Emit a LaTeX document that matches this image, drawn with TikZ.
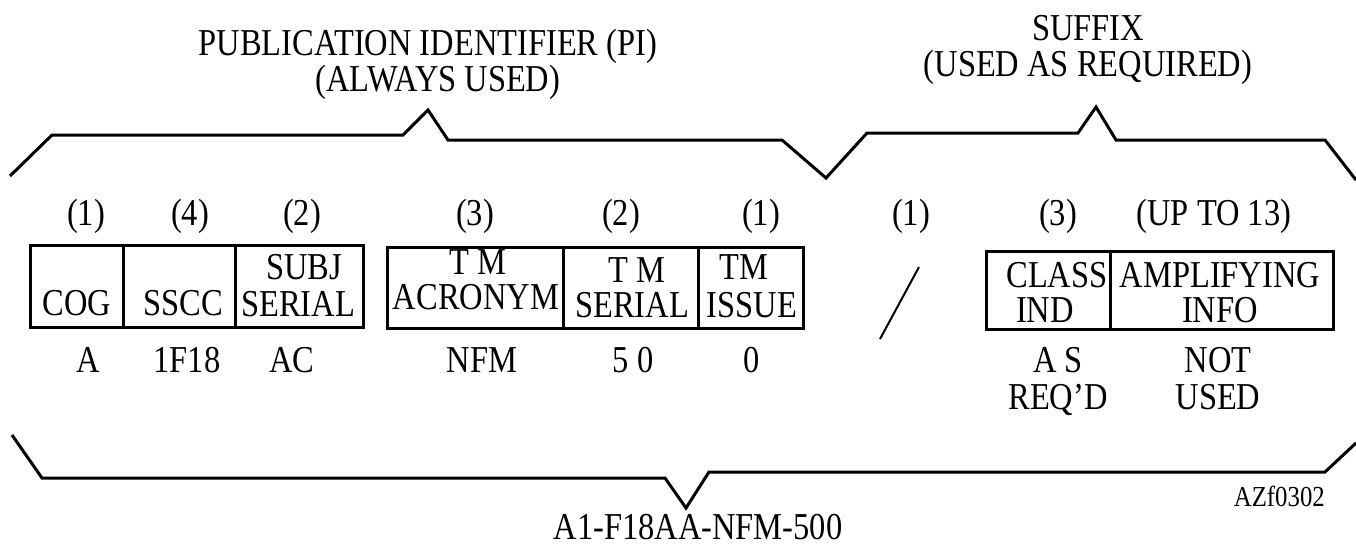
\documentclass[tikz,border=0pt]{standalone}
\usepackage{fontspec}
\setmainfont{Liberation Serif}[FakeStretch=0.855]
\begin{document}
\begin{tikzpicture}[x=1pt,y=-1pt,
  brace/.style={line width=3pt, line join=miter, line cap=butt},
  cell/.style={line width=3pt},
  lbl/.style={anchor=base, inner sep=0pt, font=\fontsize{38}{42}\selectfont},
  small/.style={anchor=base east, inner sep=0pt, font=\fontsize{29}{32}\selectfont}]
\useasboundingbox (0,0) rectangle (1356,546);
% top braces
\draw[brace] (10,176) -- (52,135) -- (403,135) -- (428,110) -- (448,140) -- (782,140) -- (826,178)
  -- (867,133) -- (1078,133) -- (1096,107) -- (1116,140) -- (1325,140) -- (1356,180);
% bottom brace
\draw[brace] (12,435) -- (42,478) -- (665,478) -- (686,508) -- (709,472) -- (1325,472) -- (1356,443);
% titles
\node[lbl] (t1) at (428,55) {PUBLICATION IDENTIFIER (PI)};
\node[lbl] (t2) at (438,91) {(ALWAYS USED)};
\node[lbl] (t3) at (1088,40) {SUFFIX};
\node[lbl] (t4) at (1088,76) {(USED AS REQUIRED)};
% counts
\node[lbl] (c1) at (86,225) {(1)};
\node[lbl] (c2) at (190,225) {(4)};
\node[lbl] (c3) at (302,225) {(2)};
\node[lbl] (c4) at (475,225) {(3)};
\node[lbl] (c5) at (621,225) {(2)};
\node[lbl] (c6) at (761,225) {(1)};
\node[lbl] (c7) at (911,225) {(1)};
\node[lbl] (c8) at (1058,225) {(3)};
\node[lbl] (c9) at (1214,225) {(UP TO 13)};
% boxes
\draw[cell] (30,245) rectangle (363,327);
\draw[cell] (123,245) -- (123,327);
\draw[cell] (235,245) -- (235,327);
\draw[cell] (387,247) rectangle (803,328);
\draw[cell] (563,247) -- (563,328);
\draw[cell] (698,247) -- (698,328);
\draw[cell] (986,251) rectangle (1333,329);
\draw[cell] (1110,251) -- (1110,329);
\draw[line width=2pt] (919,267) -- (880,339);
% box texts
\node[lbl] (b1) at (77,315) {COG};
\node[lbl] (b2) at (183,315) {SSCC};
\node[lbl] (b3a) at (304,279) {SUBJ};
\node[lbl] (b3b) at (298,316) {SERIAL};
\node[lbl] (b4a) at (478,274) {T M};
\node[lbl] (b4b) at (476,309) {ACRONYM};
\node[lbl] (b5a) at (637,282) {T M};
\node[lbl] (b5b) at (632,317) {SERIAL};
\node[lbl] (b6a) at (744,279) {TM};
\node[lbl] (b6b) at (752,317) {ISSUE};
\node[lbl] (b7a) at (1057,287) {CLASS};
\node[lbl] (b7b) at (1045,322) {IND};
\node[lbl] (b8a) at (1220,287) {AMPLIFYING};
\node[lbl] (b8b) at (1220,322) {INFO};
% values
\node[lbl] (v1) at (88,372) {A};
\node[lbl] (v2) at (187,372) {1F18};
\node[lbl] (v3) at (292,372) {AC};
\node[lbl] (v4) at (482,372) {NFM};
\node[lbl] (v5) at (633,372) {5 0};
\node[lbl] (v6) at (752,372) {0};
\node[lbl] (v7a) at (1058,372) {A S};
\node[lbl] (v7b) at (1058,409) {REQ'D};
\node[lbl] (v8a) at (1218,372) {NOT};
\node[lbl] (v8b) at (1218,409) {USED};
% bottom
\node[lbl] (res) at (698,539) {A1-F18AA-NFM-500};
\node[small] (id) at (1325,506) {AZf0302};
\end{tikzpicture}
\end{document}
